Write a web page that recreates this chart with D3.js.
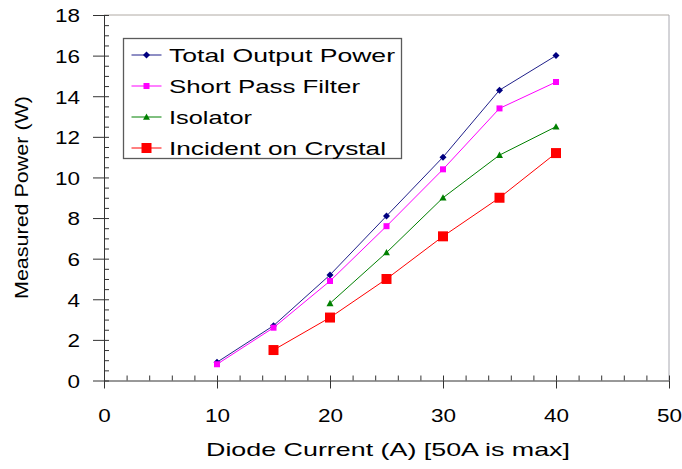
<!DOCTYPE html>
<html>
<head>
<meta charset="utf-8">
<script src="https://cdn.jsdelivr.net/npm/d3@7"></script>
<style>
  body { margin: 0; background: #fff; }
  text { font-family: "Liberation Sans", Arial, sans-serif; fill: #000; }
</style>
</head>
<body>
<div id="chart"></div>
<script>
// data
var currents = [10, 15, 20, 25, 30, 35, 40];
var totalOutput = [0.9, 2.7, 5.2, 8.1, 11.0, 14.3, 16.0];
var shortPass = [0.8, 2.6, 4.9, 7.6, 10.4, 13.4, 14.7];
var isolatorCurrents = [20, 25, 30, 35, 40];
var isolator = [3.8, 6.3, 9.0, 11.1, 12.5];
var incidentCurrents = [15, 20, 25, 30, 35, 40];
var incident = [1.5, 3.1, 5.0, 7.1, 9.0, 11.2];
var xTicks = [0, 10, 20, 30, 40, 50];
var yTicks = [0, 2, 4, 6, 8, 10, 12, 14, 16, 18];
var seriesNames = ['Total Output Power', 'Short Pass Filter', 'Isolator', 'Incident on Crystal'];

const WIDTH = 682;
const HEIGHT = 469;
const CHAR_W = 12.5; // tick digits are drawn a bit wide

var series = [
  {name: seriesNames[0], xs: currents, ys: totalOutput, line: '#1f1f8a', fill: '#000080', shape: 'diamond', size: 7, textW: 226},
  {name: seriesNames[1], xs: currents, ys: shortPass, line: '#ff00ff', fill: '#ff00ff', shape: 'square', size: 6, textW: 191},
  {name: seriesNames[2], xs: isolatorCurrents, ys: isolator, line: '#008000', fill: '#008000', shape: 'triangle', size: 7, textW: 83},
  {name: seriesNames[3], xs: incidentCurrents, ys: incident, line: '#ff0000', fill: '#ff0000', shape: 'square', size: 10, textW: 217}
];

var svg = d3.select('#chart').append('svg')
            .attr('width', WIDTH)
            .attr('height', HEIGHT);

var x = d3.scaleLinear().domain([0, 50]).range([104, 669]);
var y = d3.scaleLinear().domain([0, 18]).range([380.5, 15]);

// marker path centered on 0,0
function markerPath(shape, s) {
  var h = s / 2;
  switch (shape) {
    case 'diamond':
      return 'M0,' + (-h) + 'L' + h + ',0L0,' + h + 'L' + (-h) + ',0Z';
    case 'triangle':
      return 'M0,' + (-h) + 'L' + h + ',' + (h * 0.8) + 'L' + (-h) + ',' + (h * 0.8) + 'Z';
    default:
      return 'M' + (-h) + ',' + (-h) + 'h' + s + 'v' + s + 'h' + (-s) + 'Z';
  }
}

// plot area border (top and right)
svg.append('line')
   .attr('x1', x(0)).attr('x2', x(50))
   .attr('y1', y(18)).attr('y2', y(18))
   .attr('stroke', '#b0aaa4');
svg.append('line')
   .attr('x1', x(50)).attr('x2', x(50))
   .attr('y1', y(18)).attr('y2', y(0))
   .attr('stroke', '#a8a8b0');

// minor ticks, inside
var yMinor = d3.range(0, 18.01, 0.5);
svg.append('g')
   .attr('transform', 'translate(' + x(0) + ',0)')
   .call(d3.axisRight(y).tickValues(yMinor).tickSize(5).tickSizeOuter(0).tickFormat(''))
   .call(g => g.select('.domain').remove());
var xMinor = d3.range(0, 50.01, 2);
svg.append('g')
   .attr('transform', 'translate(0,' + y(0) + ')')
   .call(d3.axisTop(x).tickValues(xMinor).tickSize(5).tickSizeOuter(0).tickFormat(''))
   .call(g => g.select('.domain').remove());

// major axes
var yAxis = svg.append('g')
   .attr('transform', 'translate(' + x(0) + ',0)')
   .call(d3.axisLeft(y).tickValues(yTicks).tickSize(11).tickSizeOuter(0).tickPadding(13));
yAxis.selectAll('text')
     .attr('font-size', 19)
     .attr('dy', '0.36em')
     .attr('textLength', d => String(d).length * CHAR_W)
     .attr('lengthAdjust', 'spacingAndGlyphs');

var xAxis = svg.append('g')
   .attr('transform', 'translate(0,' + y(0) + ')')
   .call(d3.axisBottom(x).tickValues(xTicks).tickSize(8).tickSizeOuter(0));
xAxis.selectAll('text')
     .attr('font-size', 19)
     .attr('y', 41)
     .attr('dy', 0)
     .attr('textLength', d => String(d).length * CHAR_W)
     .attr('lengthAdjust', 'spacingAndGlyphs');

svg.selectAll('.tick line').attr('stroke', '#333');
svg.selectAll('.domain').attr('stroke', '#333');

// series lines and markers
series.forEach(function (s) {
  var pts = s.xs.map((v, i) => [v, s.ys[i]]);
  svg.append('path')
     .datum(pts)
     .attr('fill', 'none')
     .attr('stroke', s.line)
     .attr('stroke-width', 1)
     .attr('d', d3.line().x(d => x(d[0])).y(d => y(d[1])));
  svg.selectAll(null).data(pts)
     .enter()
     .append('path')
     .attr('transform', d => 'translate(' + x(d[0]) + ',' + y(d[1]) + ')')
     .attr('d', markerPath(s.shape, s.size))
     .attr('fill', s.fill);
});

// legend
var legend = svg.append('g').attr('transform', 'translate(123.5,38.5)');
legend.append('rect')
      .attr('width', 278)
      .attr('height', 120)
      .attr('fill', '#fff')
      .attr('stroke', '#5a5a5a')
      .attr('stroke-width', 1.3);

var rows = legend.selectAll('g.row').data(series)
                 .enter()
                 .append('g')
                 .classed('row', true)
                 .attr('transform', (d, i) => 'translate(0,' + (16.5 + i * 31) + ')');
rows.append('line')
    .attr('x1', 8).attr('x2', 38)
    .attr('stroke', d => d.line);
rows.append('path')
    .attr('transform', 'translate(23,0)')
    .attr('d', d => markerPath(d.shape, d.size))
    .attr('fill', d => d.fill);
rows.append('text')
    .attr('x', 45.5)
    .attr('y', 7)
    .attr('font-size', 19)
    .attr('textLength', d => d.textW)
    .attr('lengthAdjust', 'spacingAndGlyphs')
    .text(d => d.name);

// axis titles
svg.append('text')
   .attr('x', 388)
   .attr('y', 456)
   .attr('text-anchor', 'middle')
   .attr('font-size', 19)
   .attr('textLength', 364)
   .attr('lengthAdjust', 'spacingAndGlyphs')
   .text('Diode Current (A) [50A is max]');

svg.append('text')
   .attr('transform', 'translate(28,197.5) rotate(-90)')
   .attr('text-anchor', 'middle')
   .attr('font-size', 19)
   .attr('textLength', 203)
   .attr('lengthAdjust', 'spacingAndGlyphs')
   .text('Measured Power (W)');
</script>
</body>
</html>
